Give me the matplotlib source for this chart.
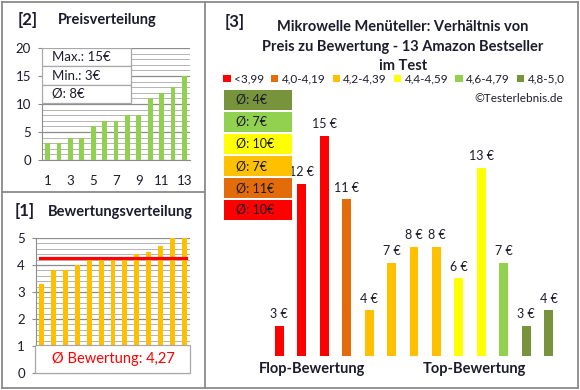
import matplotlib.pyplot as plt
import matplotlib.transforms as mtransforms
from matplotlib.patches import Rectangle, Patch
from matplotlib.lines import Line2D

plt.rcParams['font.family'] = ['Lato', 'DejaVu Sans']

W, H = 580, 390

# sorted price / rating distributions (left panels)
price_sorted = [3, 3, 4, 4, 6, 7, 7, 8, 8, 11, 12, 13, 15]
rating_sorted = [3.3, 3.8, 3.8, 4.0, 4.2, 4.2, 4.2, 4.2, 4.4, 4.5, 4.7, 5.0, 5.0]
rating_avg = 4.27

# main chart: price per product, ordered flop -> top
prices = [3, 12, 15, 11, 4, 7, 8, 8, 6, 13, 7, 3, 4]
price_band = [0, 0, 0, 1, 2, 2, 2, 2, 3, 3, 4, 5, 5]
band_labels = ["<3,99", "4,0-4,19", "4,2-4,39", "4,4-4,59", "4,6-4,79", "4,8-5,0"]
band_colors = ["#FF0000", "#E26B0A", "#FFC000", "#FFFF00", "#92D050", "#77933C"]

GRID_MAJ = '#8c8c8c'
GRID_MIN = '#b4b4b4'
BORDER = '#8a8a8a'
TXT = '#1c1c2c'

fig = plt.figure(figsize=(W / 100, H / 100), dpi=100)


def px_axes(x0, y0, x1, y1):
    return fig.add_axes([x0 / W, 1 - y1 / H, (x1 - x0) / W, (y1 - y0) / H])


def style_axes(ax):
    for s in ['top', 'right']:
        ax.spines[s].set_visible(False)
    for s in ['left', 'bottom']:
        ax.spines[s].set_color(GRID_MAJ)
    ax.grid(axis='y', which='major', color=GRID_MAJ, lw=0.9, zorder=0)
    ax.grid(axis='y', which='minor', color=GRID_MIN, lw=0.7, zorder=0)
    ax.set_axisbelow(True)
    ax.tick_params(axis='y', which='major', length=3, color=GRID_MAJ, pad=5,
                   labelsize=9.5, labelcolor=TXT)
    ax.tick_params(axis='y', which='minor', length=0)
    ax.tick_params(axis='x', length=0, labelsize=9.5, labelcolor=TXT)


# ---- [2] Preisverteilung
ax1 = px_axes(42, 48, 190, 160)
n = len(price_sorted)
ax1.bar(range(1, n + 1), price_sorted, width=0.42, color='#92D050', zorder=3)
ax1.set_xlim(0.5, n + 0.5)
ax1.set_ylim(0, 20)
ax1.set_yticks(range(0, 21, 5))
ax1.set_yticks(range(0, 21, 1), minor=True)
ax1.set_xticks(range(1, n + 1, 2))
style_axes(ax1)
ax1.tick_params(axis='x', pad=11)

stats = ["Max.: %d€" % max(price_sorted), "Min.: %d€" % min(price_sorted),
         "Ø: %d€" % round(sum(price_sorted) / n)]
row_h = (55 / 112) / 3
for i, s in enumerate(stats):
    y = 1 - (i + 1) * row_h
    ax1.add_patch(Rectangle((0, y), 0.6, row_h, transform=ax1.transAxes,
                            facecolor='white', edgecolor='#a8a8a8', lw=0.9, zorder=5))
    ax1.text(0.07, y + row_h / 2, s, transform=ax1.transAxes, va='center',
             fontsize=9.5, color=TXT, zorder=6)

fig.text(18 / W, 1 - 20 / H, "[2]", fontsize=12, fontweight='bold', va='center', color=TXT)
fig.text(58 / W, 1 - 20 / H, "Preisverteilung", fontsize=10.5, fontweight='bold', va='center', color=TXT)

# ---- [1] Bewertungsverteilung
ax2 = px_axes(36, 238, 190, 373)
ax2.bar(range(1, n + 1), rating_sorted, width=0.42, color='#FFC000', zorder=3)
ax2.plot([0.8, n + 0.2], [rating_avg, rating_avg], color='#FF0000', lw=2.3, zorder=4)
ax2.set_xlim(0.5, n + 0.5)
ax2.set_ylim(0, 5)
ax2.set_yticks(range(0, 6))
ax2.set_yticks([i * 0.2 for i in range(26)], minor=True)
ax2.set_xticks([])
style_axes(ax2)

blend = mtransforms.blended_transform_factory(ax2.transAxes, ax2.transData)
ax2.add_patch(Rectangle((-0.005, 0), 1.005, 1.03, transform=blend, facecolor='white',
                        edgecolor='#a8a8a8', lw=0.9, zorder=5, clip_on=False))
ax2.text(0.5, 0.5, "Ø Bewertung: " + ("%.2f" % rating_avg).replace('.', ','),
         transform=blend, ha='center', va='center', color='#FF0000', fontsize=10.5, zorder=6)

fig.text(15 / W, 1 - 211 / H, "[1]", fontsize=12, fontweight='bold', va='center', color=TXT)
fig.text(48 / W, 1 - 212 / H, "Bewertungsverteilung", fontsize=10.5, fontweight='bold', va='center', color=TXT)

# ---- [3] main chart (value axis starts a bit above zero, as in the original)
ax3 = px_axes(268, 121, 560, 356)
xs = list(range(len(prices)))
ax3.bar(xs, prices, width=0.4, color=[band_colors[b] for b in price_band], zorder=3)
for x, v in zip(xs, prices):
    ax3.annotate("%d €" % v, (x, v), xytext=(0, 4), textcoords='offset points',
                 ha='center', va='bottom', fontsize=9, color=TXT)
ax3.set_xlim(-0.5, len(prices) - 0.5)
ax3.set_ylim(1.1, 15.95)
ax3.axis('off')

fig.text(312 / W, 1 - 369 / H, "Flop-Bewertung", ha='center', va='center',
         fontsize=10.5, fontweight='bold', color=TXT)
fig.text(474 / W, 1 - 369 / H, "Top-Bewertung", ha='center', va='center',
         fontsize=10.5, fontweight='bold', color=TXT)

fig.text(225 / W, 1 - 22 / H, "[3]", fontsize=12, fontweight='bold', va='center', color=TXT)
title_lines = ["Mikrowelle Menüteller: Verhältnis von",
               "Preis zu Bewertung - 13 Amazon Bestseller", "im Test"]
for i, line in enumerate(title_lines):
    fig.text(403 / W, 1 - (27 + 19.5 * i) / H, line, ha='center', va='center',
             fontsize=10.5, fontweight='bold', color=TXT)

handles = [Patch(facecolor=c, edgecolor='none') for c in band_colors]
fig.legend(handles, band_labels, loc='center', bbox_to_anchor=(394 / W, 1 - 79 / H),
           ncol=6, frameon=False, fontsize=8.5, handlelength=0.6, handleheight=0.6,
           handletextpad=0.3, columnspacing=0.6, borderpad=0, labelcolor=TXT)

fig.text(563 / W, 1 - 98 / H, "©Testerlebnis.de", ha='right', va='center', fontsize=8.5, color=TXT)

# average price per rating band, boxes stacked best band on top
for k, b in enumerate(reversed(range(len(band_colors)))):
    vals = [p for p, pb in zip(prices, price_band) if pb == b]
    avg = round(sum(vals) / len(vals) + 1e-9)
    top = 90 + 22 * k
    fig.patches.append(Rectangle((224 / W, 1 - (top + 20) / H), 68 / W, 20 / H,
                                 transform=fig.transFigure, facecolor=band_colors[b],
                                 edgecolor='none', figure=fig))
    fig.text(236 / W, 1 - (top + 10) / H, "Ø: %d€" % avg, va='center', fontsize=9, color=TXT)

# panel borders
for (x0, y0, x1, y1) in [(2, 2, 2, 388), (2, 388, 578, 388), (2, 2, 578, 2),
                         (578, 2, 578, 388), (205, 2, 205, 388), (2, 192, 205, 192)]:
    fig.add_artist(Line2D([x0 / W, x1 / W], [1 - y0 / H, 1 - y1 / H],
                          color=BORDER, lw=1.3, transform=fig.transFigure))

fig.savefig("out.png", dpi=100)
